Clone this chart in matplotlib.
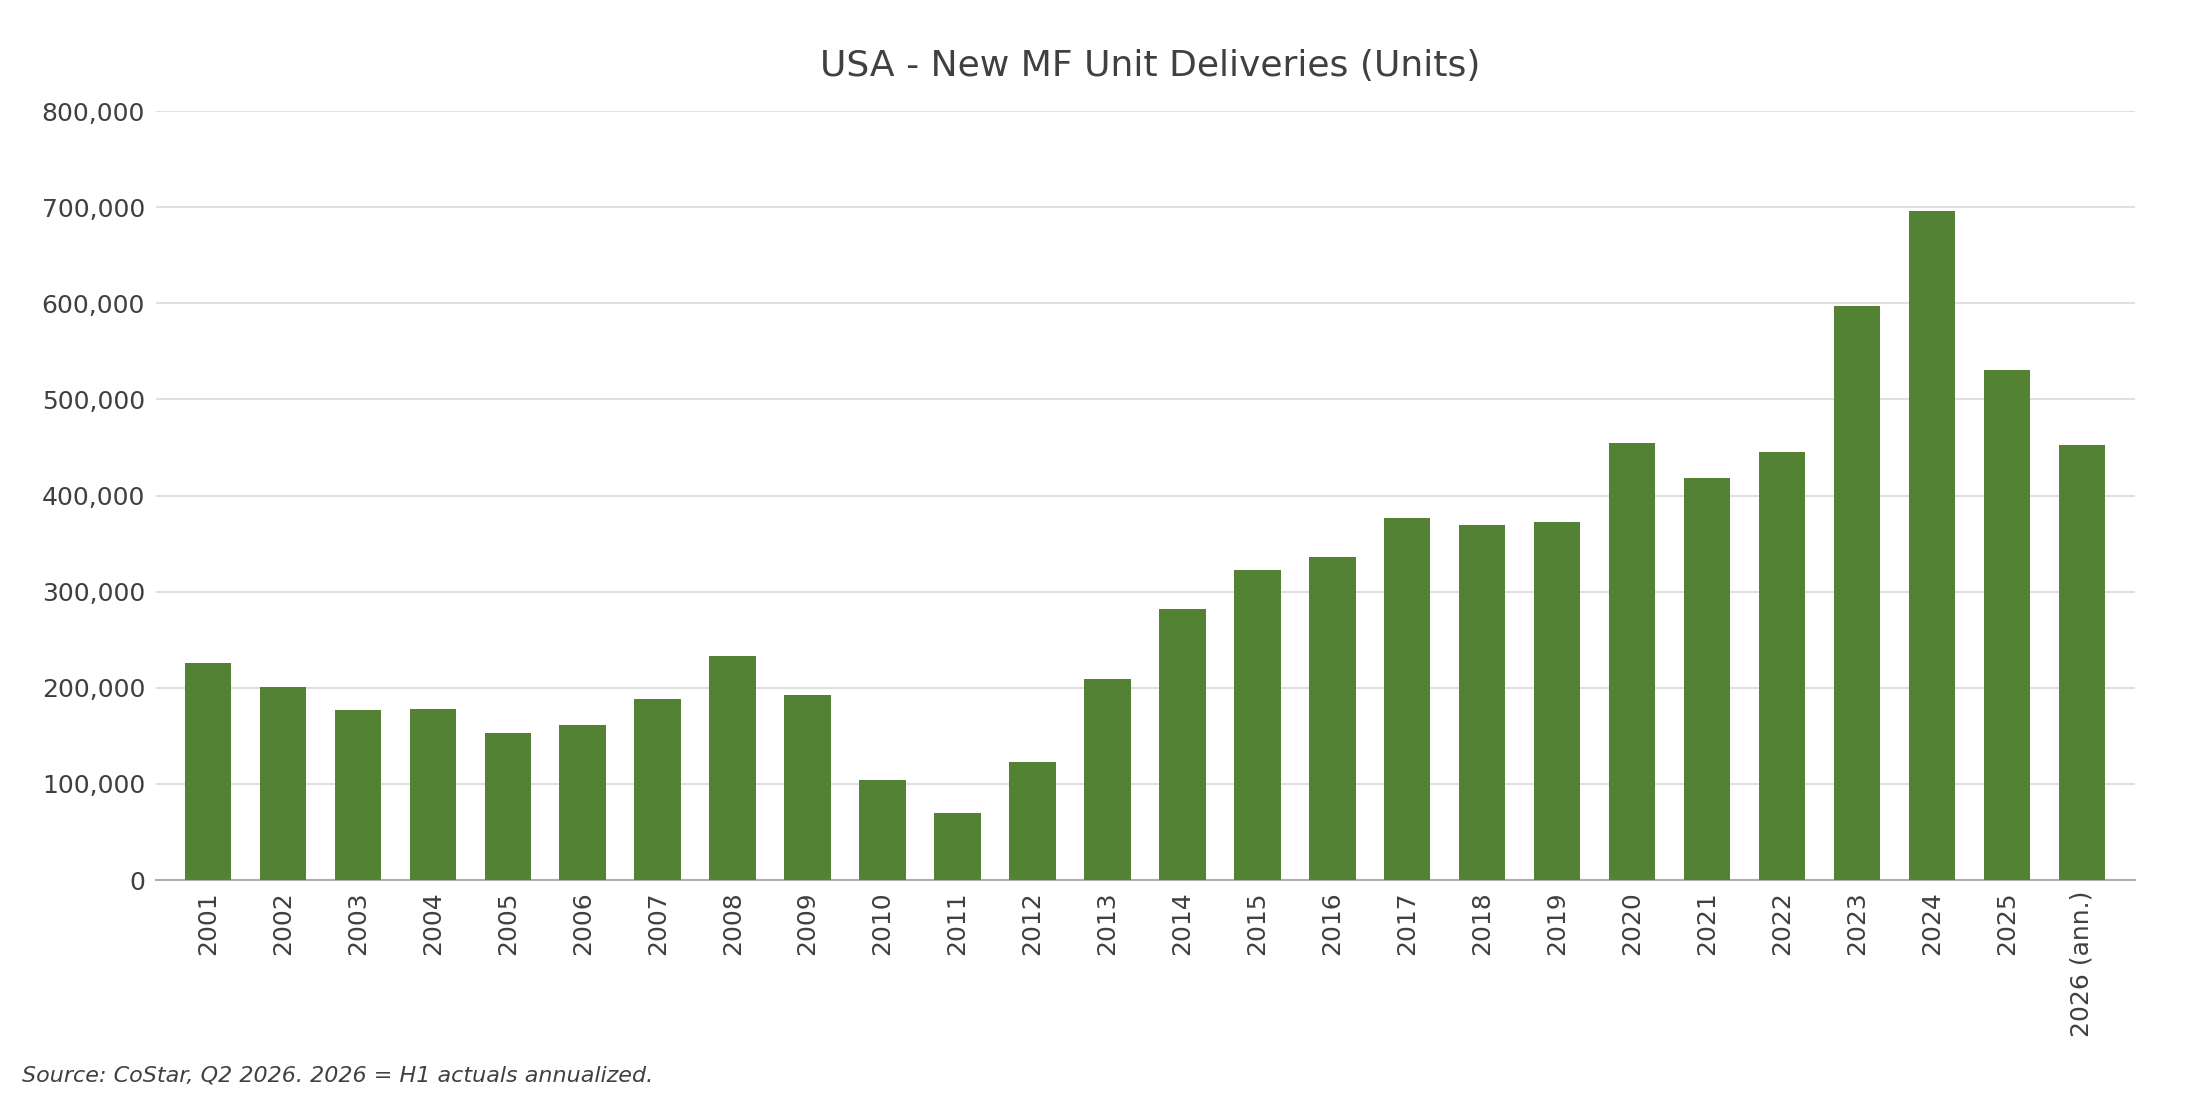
import matplotlib
matplotlib.use("Agg")
import matplotlib.pyplot as plt
from matplotlib.ticker import FuncFormatter

# Datos
anios = ["2001", "2002", "2003", "2004", "2005", "2006", "2007", "2008", "2009",
         "2010", "2011", "2012", "2013", "2014", "2015", "2016", "2017", "2018",
         "2019", "2020", "2021", "2022", "2023", "2024", "2025", "2026 (ann.)"]
entregas = [226000, 201000, 177000, 178000, 153000, 161000, 188000, 233000, 193000,
            104000, 70000, 123000, 209000, 282000, 323000, 336000, 377000, 369000,
            372000, 455000, 418000, 445000, 597000, 696000, 531000, 453000]

color_barra = '#548235'
color_texto = '#404040'

fig = plt.figure(figsize=(22, 11), dpi=100)
ax = fig.add_axes([0.071, 0.200, 0.8995, 0.699])

x = range(len(anios))
ax.bar(x, entregas, width=0.62, color=color_barra, zorder=3)

ax.set_ylim(0, 800000)
ax.set_xlim(-0.69, len(anios) - 1 + 0.71)
ax.set_yticks(range(0, 800001, 100000))
ax.yaxis.set_major_formatter(FuncFormatter(lambda v, p: f"{int(v):,}"))
ax.set_xticks(list(x))
ax.set_xticklabels(anios, rotation=90)

ax.grid(True, axis='y', color='#e0e0e0', linewidth=1.5, zorder=0)
for lado in ['top', 'right', 'left']:
    ax.spines[lado].set_visible(False)
ax.spines['bottom'].set_color('#b0b0b0')
ax.spines['bottom'].set_linewidth(1.5)
ax.tick_params(axis='both', length=0, labelsize=18, colors=color_texto, pad=8)

fig.text(0.523, 0.94, "USA - New MF Unit Deliveries (Units)", ha='center', va='center',
         fontsize=26, color=color_texto)
fig.text(0.010, 0.022, "Source: CoStar, Q2 2026. 2026 = H1 actuals annualized.",
         ha='left', va='center', fontsize=16, style='italic', color=color_texto)

fig.savefig('out.png', dpi=100)
plt.close(fig)
